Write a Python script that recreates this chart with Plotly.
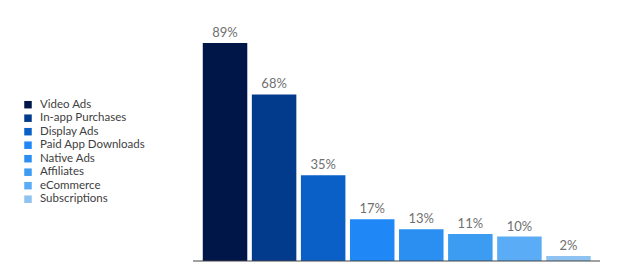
import plotly.graph_objects as go

categories = ["Video Ads", "In-app Purchases", "Display Ads", "Paid App Downloads",
              "Native Ads", "Affiliates", "eCommerce", "Subscriptions"]
values = [89, 68, 35, 17, 13, 11, 10, 2]
labels = [f"{v}%" for v in values]
colors = ["#001548", "#023a8c", "#0a60c6", "#1f88f6", "#2b8ff2", "#3c9cf2", "#5aacf6", "#8dc2f1"]

W, H = 640, 276
fig = go.Figure()

fig.add_trace(go.Bar(
    x=categories, y=values, marker=dict(color=colors, line=dict(width=0)),
    text=labels, textposition="outside", cliponaxis=False,
    textfont=dict(family="Lato, Open Sans, sans-serif", size=13, color="#707070"),
    showlegend=False, hoverinfo="skip",
))

idx = list(range(len(categories)))
fig.add_trace(go.Scatter(
    x=[28] * len(categories), y=idx, mode="markers",
    marker=dict(symbol="square", size=7.5, color=colors, line=dict(width=0)),
    xaxis="x2", yaxis="y2", showlegend=False, hoverinfo="skip",
))
fig.add_trace(go.Scatter(
    x=[40] * len(categories), y=idx, mode="text", text=categories,
    textposition="middle right",
    textfont=dict(family="Lato, Open Sans, sans-serif", size=11.5, color="#404040"),
    xaxis="x2", yaxis="y2", showlegend=False, hoverinfo="skip",
))

plot_left, plot_right = 200.5, 593
base_px, top_px = 261, 16
fig.update_layout(
    width=W, height=H, margin=dict(l=0, r=0, t=0, b=0),
    paper_bgcolor="white", plot_bgcolor="white",
    bargap=0.093,
    xaxis=dict(domain=[plot_left / W, plot_right / W], showticklabels=False, showgrid=False,
               zeroline=False, showline=False, ticks=""),
    yaxis=dict(domain=[(H - base_px) / H, (H - top_px) / H], range=[0, 100], visible=False),
    xaxis2=dict(domain=[0, 200 / W], range=[0, 200], visible=False, anchor="y2"),
    yaxis2=dict(domain=[0, 1], range=[(H - 104.7) / 13.5, -104.7 / 13.5], visible=False, anchor="x2"),
    shapes=[dict(type="line", xref="paper", yref="paper",
                 x0=193 / W, x1=600 / W, y0=(H - base_px) / H, y1=(H - base_px) / H,
                 line=dict(color="#444444", width=1.2))],
)

fig.write_html("out.html")
